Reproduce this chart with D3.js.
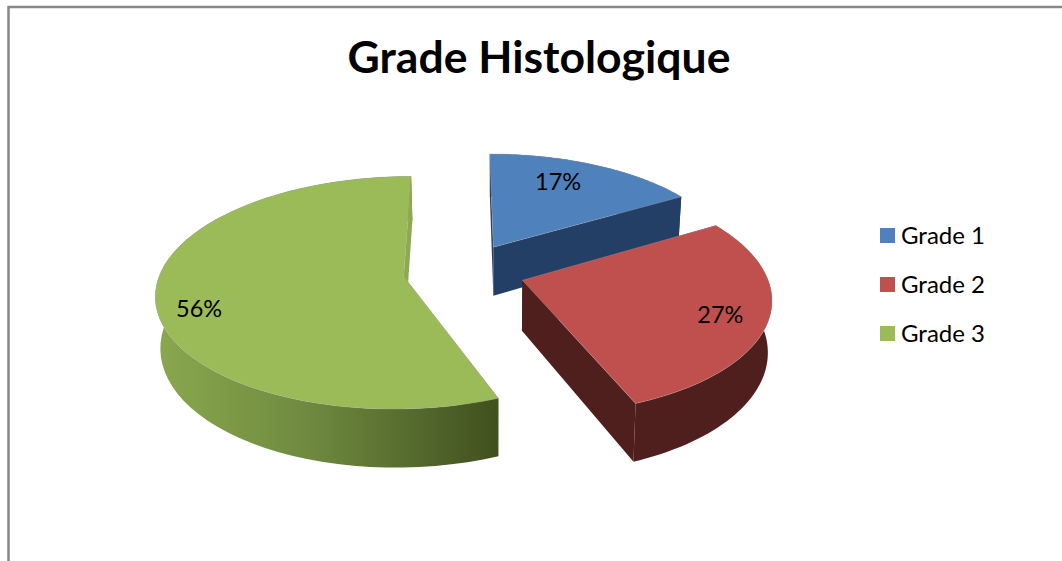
<!DOCTYPE html>
<html>
<head>
<meta charset="utf-8">
<title>Grade Histologique</title>
<script src="https://cdn.jsdelivr.net/npm/d3@7"></script>
<style>
  html, body { margin: 0; padding: 0; background: #fff; overflow: hidden; }
  svg { display: block; font-family: Lato, "Open Sans", sans-serif; }
</style>
</head>
<body>
<script>
// chart data
var title = "Grade Histologique";
var grades = ["Grade 1", "Grade 2", "Grade 3"];
var percents = [16.5, 27.49, 56.01];

// colours
var topColors = ["#4f81bd", "#c0504d", "#9bbb59"];
var sideColors = ["#243f66", "#4f1f1e", "url(#greenSide)"];
var innerColors = ["#243f66", "#4f1f1e", "#8caa50"];

var width = 1062, height = 561;

var svg = d3.select("body").append("svg")
    .attr("width", width)
    .attr("height", height);

// gradient on the green outer wall
var grad = svg.append("defs").append("linearGradient")
    .attr("id", "greenSide")
    .attr("gradientUnits", "userSpaceOnUse")
    .attr("x1", 155).attr("x2", 495).attr("y1", 0).attr("y2", 0);
grad.append("stop").attr("offset", "0").attr("stop-color", "#8aa84e");
grad.append("stop").attr("offset", "0.45").attr("stop-color", "#6f8a3f");
grad.append("stop").attr("offset", "1").attr("stop-color", "#41511f");

// chart frame, only top and left are in the picture
svg.append("path")
    .attr("d", "M8.5,561V7H1062")
    .attr("fill", "none")
    .attr("stroke", "#878787")
    .attr("stroke-width", 2.5);

svg.append("text")
    .attr("x", 539)
    .attr("y", 73)
    .attr("text-anchor", "middle")
    .attr("font-size", 44.5)
    .attr("font-weight", 700)
    .attr("fill", "#000")
    .text(title);

// pie plane -> screen, with some perspective
var cx = 464, cy = 271;
var rx = 243, ry = 112.5, persp = 0.14;
var depth = 50, shrink = 0.015, shrinkX = 495;
var explode = 0.251;

function project(u, v, z) {
    var den = 1 - persp * v;
    var x = cx + rx * u / den;
    var y = cy + ry * v / den + z * depth / den;
    return [shrinkX + (x - shrinkX) * (1 - z * shrink), y];
}

var arcs = d3.pie().sort(null)(percents);
var line = d3.line();

// label nudges from the bisector, the chart placed them by hand
var labelAngle = [-5, 1.6, -8];
var labelRadius = [0.745, 0.815, 0.84];

arcs.forEach(function(d, i) {
    var mid = (d.startAngle + d.endAngle) / 2;
    var ou = explode * Math.sin(mid);
    var ov = -explode * Math.cos(mid);

    function pt(a, r, z) {
        return project(ou + r * Math.sin(a), ov - r * Math.cos(a), z);
    }

    function radialWall(g, a) {
        g.append("path")
            .attr("d", line([pt(a, 0, 0), pt(a, 1, 0), pt(a, 1, 1), pt(a, 0, 1)]) + "Z")
            .attr("fill", innerColors[i]);
    }

    var steps = d3.range(0, 61).map(function(k) {
        return d.startAngle + (d.endAngle - d.startAngle) * k / 60;
    });

    var g = svg.append("g").attr("class", "slice");

    radialWall(g, d.startAngle);

    // outer wall
    var wall = steps.map(function(a) { return pt(a, 1, 0); })
        .concat(steps.slice().reverse().map(function(a) { return pt(a, 1, 1); }));
    g.append("path")
        .attr("d", line(wall) + "Z")
        .attr("fill", sideColors[i]);

    // end wall goes over the outer one, it shows as a sliver on green
    radialWall(g, d.endAngle);

    // top face
    var face = [pt(0, 0, 0)].concat(steps.map(function(a) { return pt(a, 1, 0); }));
    g.append("path")
        .attr("d", line(face) + "Z")
        .attr("fill", topColors[i])
        .attr("stroke", "#a9a9a0")
        .attr("stroke-opacity", 0.35)
        .attr("stroke-width", 1);
});

// data labels drawn after all slices so red does not cover them
arcs.forEach(function(d, i) {
    var mid = (d.startAngle + d.endAngle) / 2;
    var a = mid + labelAngle[i] * Math.PI / 180;
    var p = project(
        explode * Math.sin(mid) + labelRadius[i] * Math.sin(a),
        -explode * Math.cos(mid) - labelRadius[i] * Math.cos(a), 0);
    svg.append("text")
        .attr("x", p[0])
        .attr("y", p[1])
        .attr("dy", "0.35em")
        .attr("text-anchor", "middle")
        .attr("font-size", 23.5)
        .attr("fill", "#000")
        .text(Math.round(d.data) + "%");
});

// legend
var legendY = d3.scalePoint().domain(grades).range([235.5, 333.5]);

var legend = svg.selectAll(".legend")
    .data(grades)
    .enter()
    .append("g")
    .attr("class", "legend")
    .attr("transform", function(d) { return "translate(880," + legendY(d) + ")"; });

legend.append("rect")
    .attr("y", -7.5)
    .attr("width", 15)
    .attr("height", 15)
    .attr("fill", function(d, i) { return topColors[i]; });

legend.append("text")
    .attr("x", 21)
    .attr("dy", "0.35em")
    .attr("font-size", 24)
    .attr("fill", "#000")
    .text(function(d) { return d; });
</script>
</body>
</html>
